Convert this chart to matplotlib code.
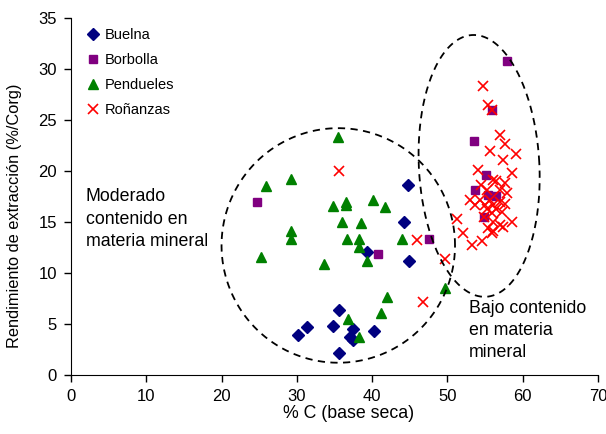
import numpy as np
import matplotlib
matplotlib.use('Agg')
import matplotlib.pyplot as plt

plt.rcParams['font.family'] = ['Liberation Sans', 'DejaVu Sans']

# Buelna
buelna_x = [30.2, 31.3, 34.8, 35.6, 35.6, 37.4, 37.1, 37.4, 40.2, 39.3, 44.2, 44.9, 44.8]
buelna_y = [3.9, 4.7, 4.8, 6.4, 2.2, 4.5, 3.7, 3.4, 4.3, 12.1, 15.0, 11.2, 18.6]

# Borbolla
borbolla_x = [24.7, 40.8, 47.6, 57.9, 55.9, 53.5, 55.1, 53.7, 55.4, 56.4, 54.8]
borbolla_y = [17.0, 11.9, 13.3, 30.8, 26.0, 22.9, 19.6, 18.1, 17.6, 17.5, 15.5]

# Pendueles
pendueles_x = [35.5, 29.2, 25.9, 34.8, 36.5, 36.5, 40.1, 41.7, 36.0, 38.5, 29.2, 29.2,
               36.7, 38.2, 38.2, 39.3, 25.2, 33.6, 43.9, 49.7, 42.0, 41.2, 36.8, 38.2]
pendueles_y = [23.3, 19.2, 18.5, 16.6, 17.0, 16.7, 17.2, 16.5, 15.0, 14.9, 14.1, 13.3,
               13.3, 13.3, 12.5, 11.2, 11.6, 10.9, 13.3, 8.5, 7.6, 6.1, 5.5, 3.7]

# Roñanzas
ronanzas_x = [35.6, 46.0, 46.7, 49.7, 51.2, 52.0, 53.2, 54.6, 54.7, 55.4, 55.9, 57.0,
              57.6, 55.6, 59.1, 57.4, 54.1, 58.5, 56.1, 56.5, 57.6, 54.5, 55.2, 57.0,
              57.9, 53.0, 54.3, 55.6, 57.0, 57.6, 53.7, 55.0, 56.1, 55.2, 56.5, 55.9,
              57.2, 54.8, 56.1, 58.5, 57.0, 55.4, 56.1, 55.9, 57.4]
ronanzas_y = [20.0, 13.2, 7.2, 11.4, 15.3, 13.9, 12.7, 13.1, 28.3, 26.5, 26.0, 23.5,
              22.6, 22.0, 21.7, 21.1, 20.1, 19.8, 19.1, 19.0, 18.8, 18.6, 18.1, 18.1,
              17.8, 17.2, 17.2, 17.2, 17.0, 16.8, 16.7, 16.7, 16.7, 16.3, 16.3, 15.9,
              16.0, 15.5, 15.0, 15.0, 14.7, 14.4, 14.1, 13.9, 14.5]

fig = plt.figure(figsize=(6.06, 4.34), dpi=100)
ax = fig.add_axes([0.117, 0.136, 0.87, 0.8225])

ax.plot(buelna_x, buelna_y, 'D', color='#000080', ms=6.5, ls='none', label='Buelna')
ax.plot(borbolla_x, borbolla_y, 's', color='#800080', ms=6, ls='none', label='Borbolla')
ax.plot(pendueles_x, pendueles_y, '^', color='#008000', ms=7, ls='none', label='Pendueles')
ax.plot(ronanzas_x, ronanzas_y, 'x', color='#FF0000', ms=7.5, mew=1.2, ls='none', label='Roñanzas')


def dashed_oval(ax, cx, cy, rx, ry, tilt=0.0):
    # ellipse drawn in screen-like proportions (px per unit differs on x and y)
    sx, sy = 7.53, 10.2
    t = np.linspace(0, 2 * np.pi, 300)
    px = rx * sx * np.cos(t)
    py = ry * sy * np.sin(t)
    a = np.deg2rad(tilt)
    qx = px * np.cos(a) - py * np.sin(a)
    qy = px * np.sin(a) + py * np.cos(a)
    ax.plot(cx + qx / sx, cy + qy / sy, color='black', lw=1.3, ls=(0, (4, 3)))


dashed_oval(ax, 35.5, 12.7, 15.5, 11.5)
dashed_oval(ax, 54.2, 20.5, 8.0, 12.85, tilt=3)

ax.text(2, 18.3, 'Moderado\ncontenido en\nmateria mineral', fontsize=12.8,
        va='top', ha='left', linespacing=1.4)
ax.text(52.8, 7.4, 'Bajo contenido\nen materia\nmineral', fontsize=12.8,
        va='top', ha='left', linespacing=1.4)

ax.set_xlim(0, 70)
ax.set_ylim(0, 35)
ax.set_xticks(range(0, 71, 10))
ax.set_yticks(range(0, 36, 5))
ax.tick_params(direction='out', length=5, width=1, labelsize=12, pad=5)
ax.spines['top'].set_visible(False)
ax.spines['right'].set_visible(False)
ax.set_xlabel('% C (base seca)', fontsize=12.8)
ax.set_ylabel('Rendimiento de extracción (%/Corg)', fontsize=11.8)
ax.xaxis.set_label_coords(0.526, -0.085)
ax.yaxis.set_label_coords(-0.092, 0.445)

ax.legend(loc='upper left', bbox_to_anchor=(0.0, 1.0), frameon=False, fontsize=10.5,
          handletextpad=0.0, labelspacing=0.75, handlelength=1.6, borderpad=0.2)

fig.savefig('out.png', dpi=100)
